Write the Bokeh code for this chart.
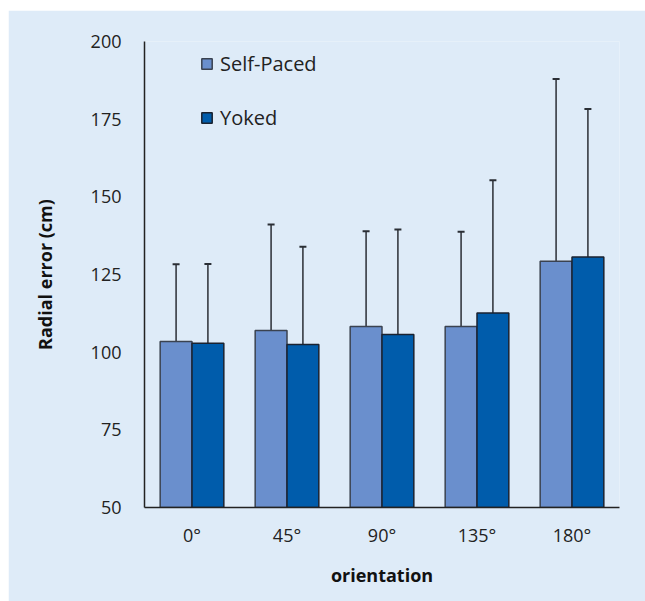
from bokeh.plotting import figure
from bokeh.models import ColumnDataSource, Whisker, Legend, LegendItem, FactorRange, TeeHead, Spacer
from bokeh.layouts import row, column
from bokeh.transform import dodge
from bokeh.embed import file_html
from bokeh.resources import INLINE

orientations = ["0°", "45°", "90°", "135°", "180°"]
self_paced = [103.4, 107.0, 108.3, 108.3, 129.3]
self_paced_upper = [128.3, 141.1, 138.9, 138.8, 187.9]
self_paced_lower = [78.4, 73.0, 77.8, 77.6, 70.6]
yoked = [102.9, 102.5, 105.7, 112.6, 130.6]
yoked_upper = [128.4, 133.9, 139.5, 155.3, 178.3]
yoked_lower = [76.9, 71.2, 71.5, 70.0, 82.8]

BG = "#deebf8"
FONT = "Open Sans"

src = ColumnDataSource(data=dict(
    cat=orientations,
    sp=self_paced, sp_up=self_paced_upper, sp_lo=self_paced_lower,
    yk=yoked, yk_up=yoked_upper, yk_lo=yoked_lower,
))

p = figure(
    x_range=FactorRange(*orientations, range_padding=0),
    y_range=(50, 200),
    width=637, height=591,
    output_backend="svg", toolbar_location=None,
    min_border_left=136, min_border_right=26,
    min_border_top=31, min_border_bottom=94,
    background_fill_color=BG, border_fill_color=BG,
    outline_line_color=None,
)

bw = 0.335
r1 = p.vbar(x=dodge("cat", -bw / 2, range=p.x_range), top="sp", bottom=50, width=bw, source=src,
            fill_color="#6a8fcd", line_color="#3a4250", line_width=1.5)
r2 = p.vbar(x=dodge("cat", bw / 2, range=p.x_range), top="yk", bottom=50, width=bw, source=src,
            fill_color="#005cab", line_color="#1a2230", line_width=1.5)

for off, up, lo in [(-bw / 2, "sp_up", "sp_lo"), (bw / 2, "yk_up", "yk_lo")]:
    w = Whisker(base=dodge("cat", off, range=p.x_range), upper=up, lower=lo, source=src,
                line_color="#2a2e35", line_width=1.5,
                upper_head=TeeHead(size=7, line_color="#2a2e35", line_width=2),
                lower_head=TeeHead(size=7, line_color="#2a2e35", line_width=2))
    p.add_layout(w)

p.grid.visible = False

p.yaxis.ticker = [50, 75, 100, 125, 150, 175, 200]
p.yaxis.major_tick_line_color = None
p.yaxis.minor_tick_line_color = None
p.yaxis.major_label_standoff = 17
p.yaxis.axis_line_color = "#222222"
p.yaxis.axis_line_width = 1.5
p.yaxis.major_label_text_font = FONT
p.yaxis.major_label_text_font_size = "18px"
p.yaxis.major_label_text_color = "#222222"
p.yaxis.axis_label = "Radial error (cm)"
p.yaxis.axis_label_text_font = FONT
p.yaxis.axis_label_text_font_style = "bold"
p.yaxis.axis_label_text_font_size = "18px"
p.yaxis.axis_label_text_color = "#111111"
p.yaxis.axis_label_standoff = 31

p.xaxis.major_tick_line_color = None
p.xaxis.minor_tick_line_color = None
p.xaxis.major_label_standoff = 9
p.xaxis.axis_line_color = "#222222"
p.xaxis.axis_line_width = 1.5
p.xaxis.major_label_text_font = FONT
p.xaxis.major_label_text_font_size = "18px"
p.xaxis.major_label_text_color = "#222222"
p.xaxis.axis_label = "orientation"
p.xaxis.axis_label_text_font = FONT
p.xaxis.axis_label_text_font_style = "bold"
p.xaxis.axis_label_text_font_size = "18px"
p.xaxis.axis_label_text_color = "#111111"
p.xaxis.axis_label_standoff = 13

legend = Legend(
    items=[LegendItem(label="Self-Paced", renderers=[r1]),
           LegendItem(label="Yoked", renderers=[r2])],
    location=(46, 366),
    glyph_width=13, glyph_height=13,
    label_text_font=FONT, label_text_font_size="20px", label_text_color="#222222",
    label_standoff=7, spacing=27,
    background_fill_alpha=0, border_line_alpha=0,
)
p.add_layout(legend)

layout = row(Spacer(width=8, height=601), column(Spacer(width=637, height=10), p, spacing=0), spacing=0)

open("out.html", "w").write(file_html(layout, INLINE))
